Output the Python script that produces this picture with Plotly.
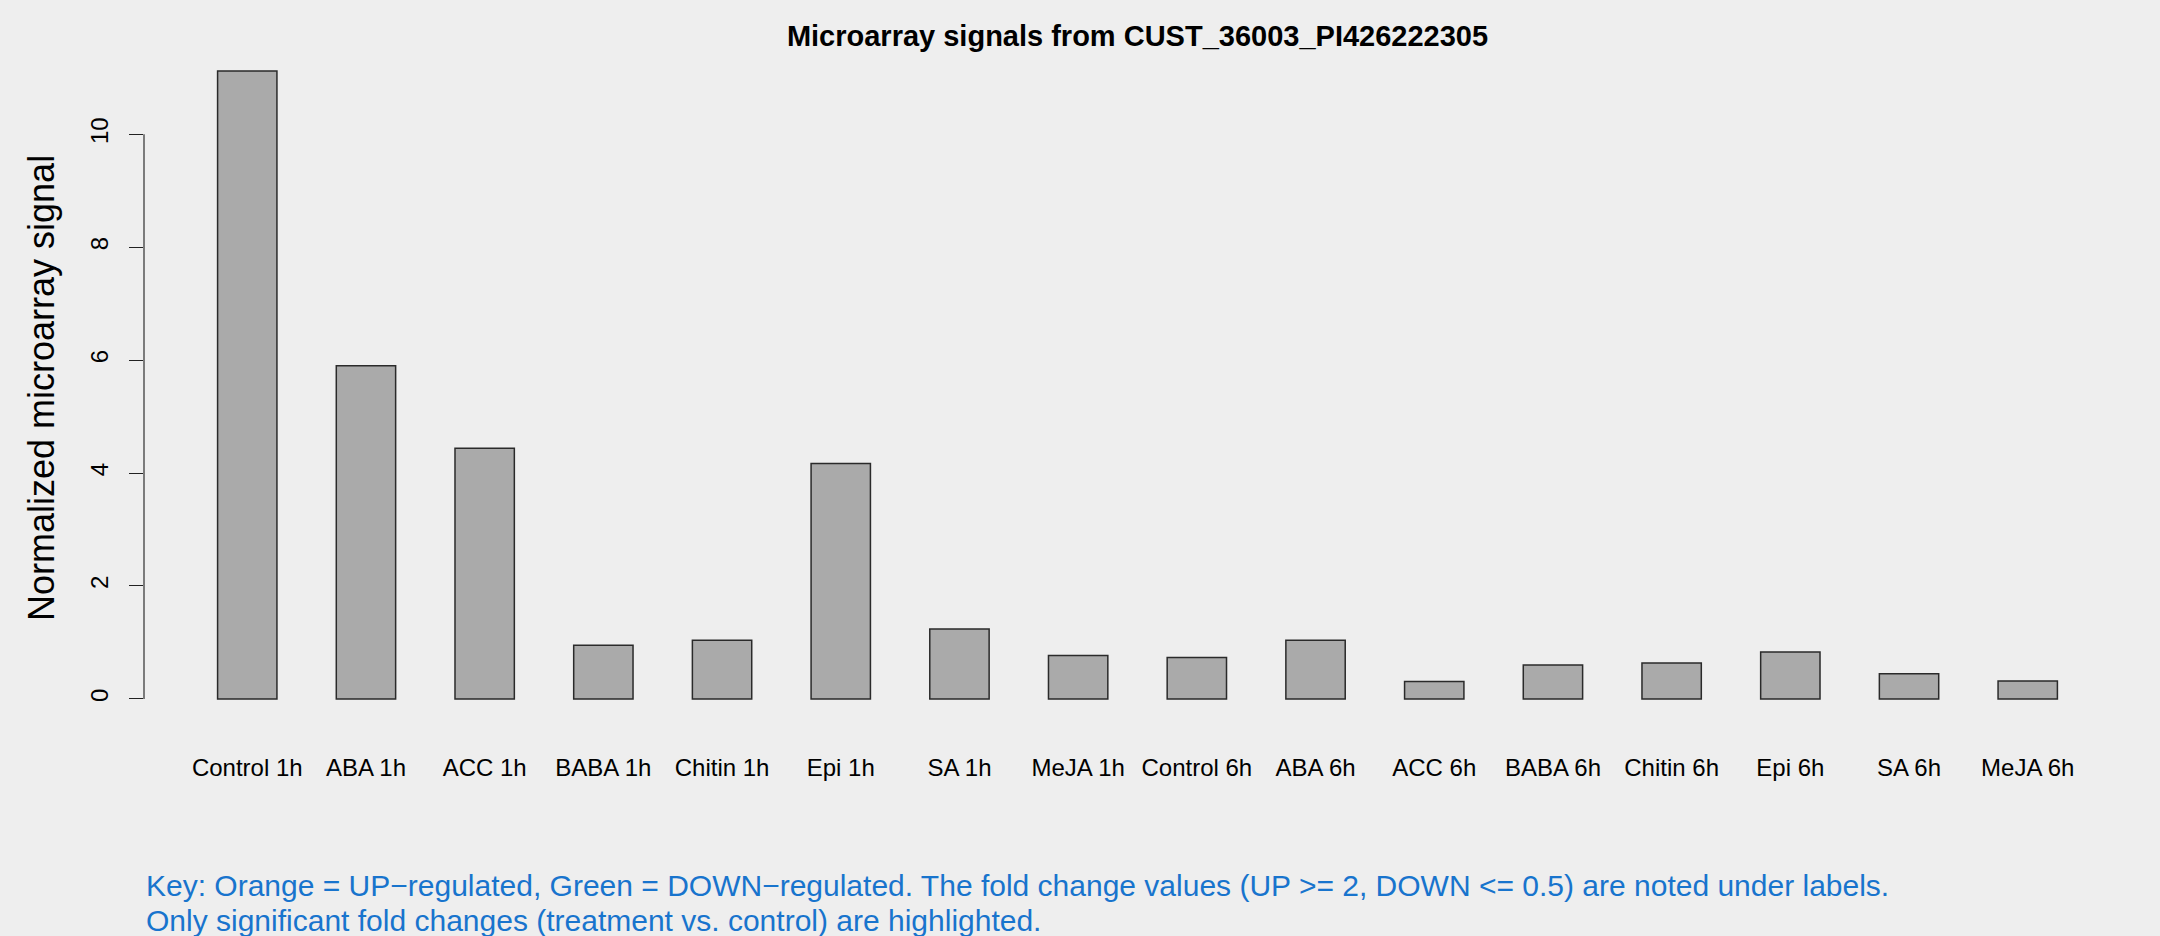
import plotly.graph_objects as go

categories = ["Control 1h", "ABA 1h", "ACC 1h", "BABA 1h", "Chitin 1h", "Epi 1h", "SA 1h", "MeJA 1h",
              "Control 6h", "ABA 6h", "ACC 6h", "BABA 6h", "Chitin 6h", "Epi 6h", "SA 6h", "MeJA 6h"]
values = [11.12, 5.90, 4.44, 0.95, 1.04, 4.17, 1.24, 0.77,
          0.735, 1.04, 0.31, 0.60, 0.636, 0.83, 0.446, 0.317]
ytick_vals = [0, 2, 4, 6, 8, 10]
title_text = "Microarray signals from CUST_36003_PI426222305"
ylabel_text = "Normalized microarray signal"
key_lines = [
    "Key: Orange = UP\u2212regulated, Green = DOWN\u2212regulated. The fold change values (UP >= 2, DOWN <= 0.5) are noted under labels.",
    "Only significant fold changes (treatment vs. control) are highlighted.",
]

BG = "#EEEEEE"
FONT = "Liberation Sans, Arial, Helvetica, sans-serif"

W, H = 2160, 936
ML, MR, MT, MB = 144, 29, 46, 212
plot_h = H - MT - MB

ymax = max(values)
pad = 0.04 * ymax
n = len(categories)

fig = go.Figure()
fig.add_trace(go.Bar(
    x=categories, y=values,
    marker=dict(color="#AAAAAA", line=dict(color="#2a2a2a", width=1.5)),
    showlegend=False,
))

def ypaper(px):
    return (H - MB - px) / plot_h

fig.update_layout(
    width=W, height=H,
    margin=dict(l=ML, r=MR, t=MT, b=MB, pad=0),
    paper_bgcolor=BG, plot_bgcolor=BG,
    bargap=0.5,
    font=dict(family=FONT, color="black", size=24),
    title=dict(text="<b>" + title_text + "</b>", x=0.5, xref="paper", xanchor="center",
               y=1 - 36 / H, yref="container", yanchor="middle",
               font=dict(family=FONT, size=29, color="black")),
    xaxis=dict(
        type="category", range=[-0.87, n - 1 + 0.87],
        showgrid=False, zeroline=False, showline=False,
        ticks="outside", ticklen=22, tickcolor="rgba(0,0,0,0)",
        tickfont=dict(size=24, color="black", family=FONT),
    ),
    yaxis=dict(
        range=[-pad, ymax + pad],
        tickvals=ytick_vals, ticktext=[str(v) for v in ytick_vals],
        showgrid=False, zeroline=False, showline=False,
        ticks="outside", ticklen=14, tickcolor="#222222", tickwidth=1.3,
        tickangle=-90, ticklabelstandoff=11,
        tickfont=dict(size=24, color="black", family=FONT),
    ),
)

# y axis line spanning the tick range only (R style)
fig.add_shape(type="line", xref="paper", yref="y", x0=0, x1=0,
              y0=ytick_vals[0], y1=ytick_vals[-1],
              line=dict(color="#555555", width=1.5))

# y axis title
fig.add_annotation(text=ylabel_text, xref="paper", yref="paper",
                   x=(41 - ML) / (W - ML - MR), y=ypaper(388),
                   xanchor="center", yanchor="middle", textangle=-90, showarrow=False,
                   font=dict(family=FONT, size=36, color="black"))

# key lines
for line, ypx in zip(key_lines, [885, 920]):
    fig.add_annotation(text=line, xref="paper", yref="paper",
                       x=0, y=ypaper(ypx), xanchor="left", yanchor="middle",
                       showarrow=False, align="left",
                       font=dict(family=FONT, size=30, color="#1874CD"))

fig.write_html("out.html", config={"displayModeBar": False},
               post_script="document.body.style.margin='0px';document.body.style.overflow='hidden';")
